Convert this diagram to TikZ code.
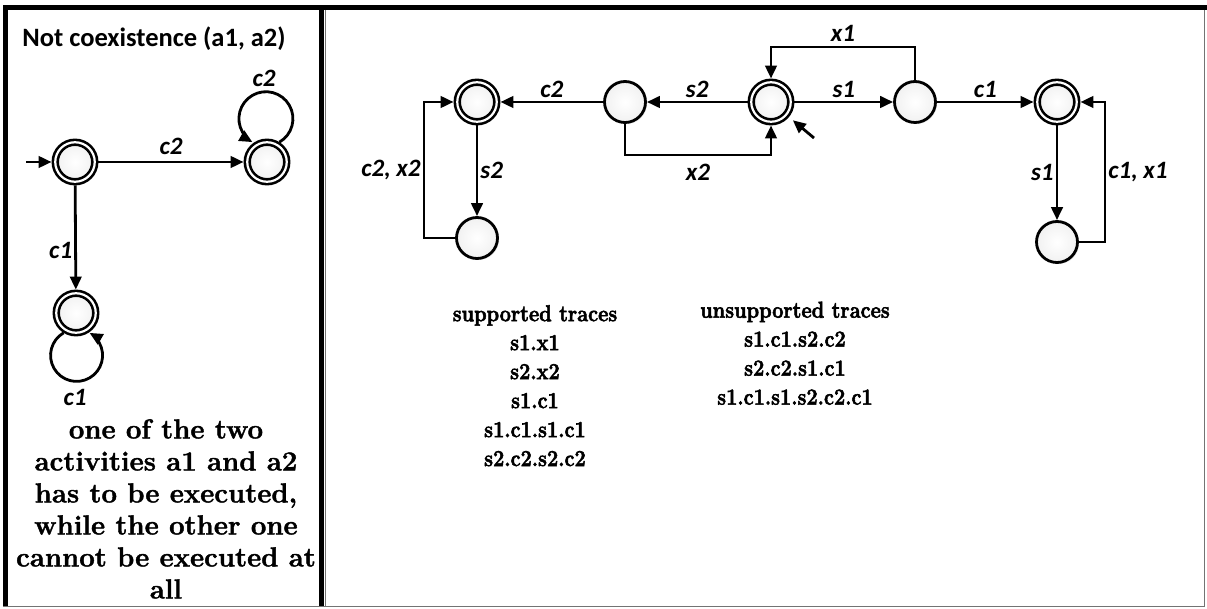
\documentclass[tikz,border=0pt]{standalone}
\usepackage{fontspec}
\newfontfamily\labfont{Carlito}
\newfontfamily\heavyserif{Latin Modern Roman}[BoldFeatures={FakeBold=2.5}]
\newfontfamily\denseserif{Latin Modern Roman}[BoldFeatures={FakeBold=1.5}]
\usetikzlibrary{arrows.meta,shadows}

\begin{document}
\begin{tikzpicture}[x=1pt,y=1pt,
  state/.style={circle, draw, line width=2.8pt, minimum size=41pt, inner sep=0pt,
    inner color=white, outer color=gray!11,
    drop shadow={shadow xshift=1.5pt, shadow yshift=-1.5pt, opacity=0.22}},
  accept/.style={state, line width=2.6pt, minimum size=39.5pt, double, double distance=2.2pt, outer sep=3.7pt},
  edge/.style={line width=2.8pt, -{Triangle[length=13pt,width=11.5pt]}},
  lab/.style={font=\labfont\bfseries\itshape\fontsize{25}{27}\selectfont, inner sep=2pt},
  boldframe/.style={line width=5pt},
  thinframe/.style={line width=1pt, black!55},
  bigtext/.style={font=\denseserif\bfseries\fontsize{27.5}{32}\selectfont,
    align=center, inner sep=0pt},
  tracetext/.style={font=\heavyserif\bfseries\fontsize{20}{25.2}\selectfont,
    align=center, inner sep=0pt, anchor=north, transform shape}
]
\useasboundingbox (0,0) rectangle (1207,608);

% panel frames
\draw[thinframe] (3,2) -- (1204.5,2);
\draw[thinframe] (325.5,2) -- (325.5,598);
\draw[thinframe] (1204.5,2) -- (1204.5,598);
\draw[boldframe] (5.5,2) -- (5.5,600.5) -- (1207,600.5);
\draw[boldframe] (321.5,2) -- (321.5,600.5);

% ---- left panel: not coexistence ----
\node[font=\labfont\bfseries\fontsize{26.5}{28}\selectfont, anchor=base] (title) at (154,561) {Not coexistence (a1, a2)};

\node[accept] (A) at (75,446) {};
\node[accept] (B) at (267,446) {};
\node[accept] (C) at (76,295) {};
\coordinate (A0) at (26,446);

\draw[edge] (A0) -- (A);
\draw[edge] (A) -- node[lab, above=4pt] {c2} (B);
\draw[edge] (A) -- node[lab, left=0pt, pos=0.62] {c1} (C);
\draw[edge] (B.58) arc[start angle=-60, end angle=240, radius=27];
\path (B) ++(-3,84) node[lab] (lb) {c2};
\draw[edge] (C.-122) arc[start angle=120, end angle=420, radius=26];
\path (C) ++(-1,-84) node[lab] (lc) {c1};

\node[bigtext, anchor=north] (desc) at (166,189) {one of the two\\activities a1 and a2\\has to be executed,\\while the other one\\cannot be executed at\\all};

% ---- right panel: automaton ----
\node[accept] (N1) at (477,506) {};
\node[state]  (N2) at (625,506) {};
\node[accept] (N3) at (771,506) {};
\node[state]  (N4) at (477,370) {};
\node[state]  (N5) at (915,506) {};
\node[accept] (N6) at (1057,506) {};
\node[state]  (N7) at (1057,366) {};

\coordinate (k1) at (625,453);
\coordinate (k2) at (771,453);
\coordinate (k3) at (424,370);
\coordinate (k4) at (424,506);
\coordinate (k5) at (915,561);
\coordinate (k6) at (771,561);
\coordinate (k7) at (1105,366);
\coordinate (k8) at (1105,506);
\coordinate (N3in) at (814,470);

\draw[edge] (N3) -- node[lab, above=1pt] {s2} (N2);
\draw[edge] (N2) -- node[lab, above=1pt] {c2} (N1);
\draw[edge] (N2) -- (k1) -- node[lab, below=6pt] {x2} (k2) -- (N3);
\draw[edge] (N1) -- node[lab, right=0pt] {s2} (N4);
\draw[edge] (N4) -- (k3) -- node[lab, left=0pt] {c2, x2} (k4) -- (N1);
\draw[edge] (N3) -- node[lab, above=1pt] {s1} (N5);
\draw[edge] (N5) -- (k5) -- node[lab, above=2pt] {x1} (k6) -- (N3);
\draw[edge] (N5) -- node[lab, above=1pt] {c1} (N6);
\draw[edge] (N6) -- node[lab, left=0pt] {s1} (N7);
\draw[edge] (N7) -- (k7) -- node[lab, right=0pt] {c1, x1} (k8) -- (N6);
\draw[edge, shorten >=5pt] (N3in) -- (N3);

% trace lists, set slightly taller than wide
\begin{scope}[shift={(535,303)}, yscale=1.15]
  \node[tracetext] (sup) at (0,0) {supported traces\\s1.x1\\s2.x2\\s1.c1\\s1.c1.s1.c1\\s2.c2.s2.c2};
\end{scope}
\begin{scope}[shift={(795,306.5)}, yscale=1.15]
  \node[tracetext] (unsup) at (0,0) {unsupported traces\\s1.c1.s2.c2\\s2.c2.s1.c1\\s1.c1.s1.s2.c2.c1};
\end{scope}

\end{tikzpicture}
\end{document}
